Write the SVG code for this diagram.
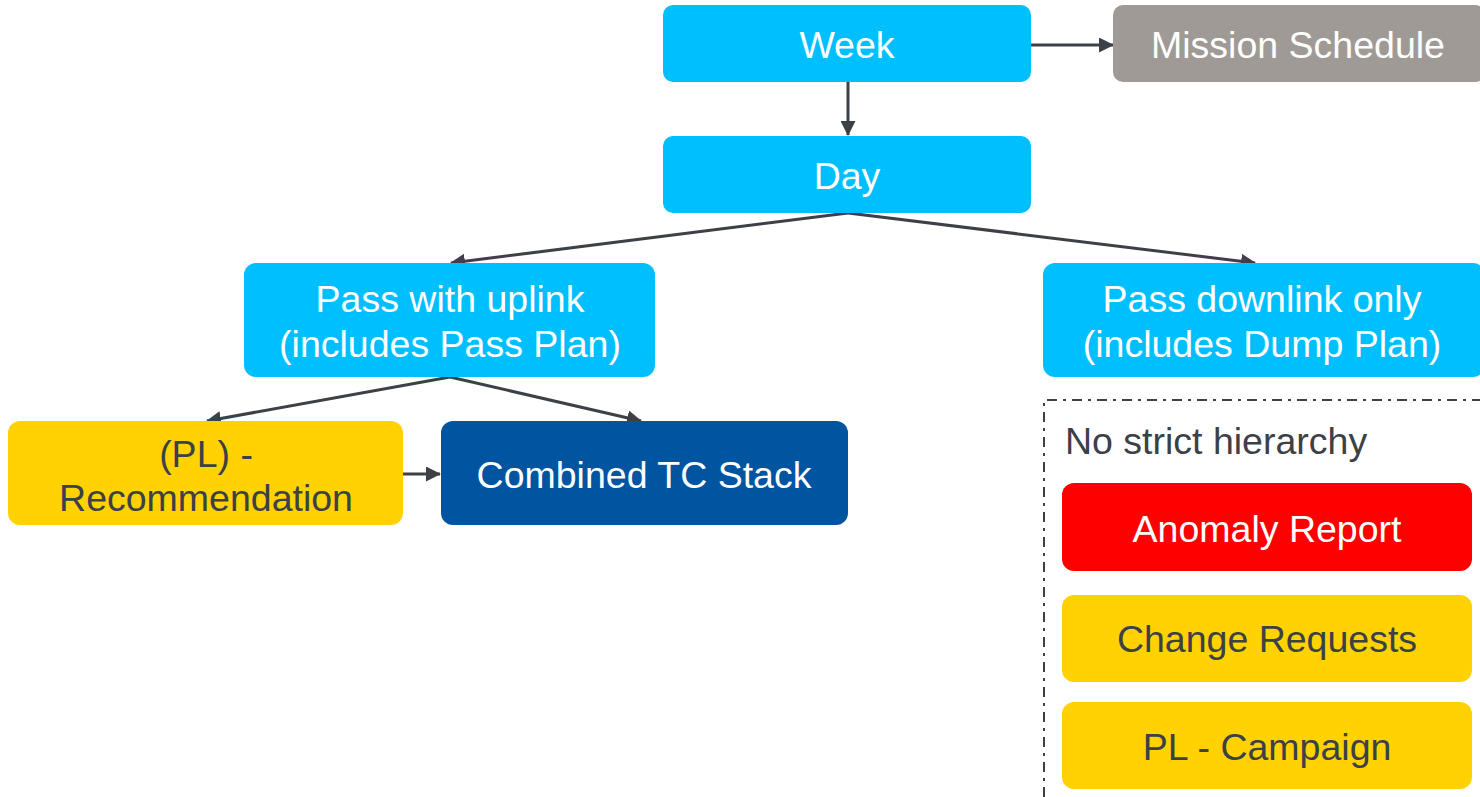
<svg xmlns="http://www.w3.org/2000/svg" width="1480" height="797" viewBox="0 0 1480 797">
<style>
text{font-family:"Liberation Sans",Arial,sans-serif;font-size:37.5px;text-anchor:middle}
.w{fill:#ffffff}.d{fill:#3C4047}
.cyan{fill:#00BFFF}.gray{fill:#A09A96}.yel{fill:#FFD200}.navy{fill:#0054A0}.red{fill:#FF0000}
.c{stroke:#3C4047;stroke-width:3;fill:none}
</style>
<defs>
<marker id="ah" viewBox="0 0 15 15" refX="14" refY="7.5" markerWidth="15" markerHeight="15" markerUnits="userSpaceOnUse" orient="auto"><path d="M0,0L15,7.5L0,15z" fill="#3C4047"/></marker>
</defs>
<rect width="1480" height="797" fill="#ffffff"/>
<g id="connectors">
<path class="c" d="M1031,45H1113" marker-end="url(#ah)"/>
<path class="c" d="M848,82V135" marker-end="url(#ah)"/>
<path class="c" d="M848,213L451,263" marker-end="url(#ah)"/>
<path class="c" d="M848,213L1255,263" marker-end="url(#ah)"/>
<path class="c" d="M450,377L207,421" marker-end="url(#ah)"/>
<path class="c" d="M450,377L641,421" marker-end="url(#ah)"/>
<path class="c" d="M403,474H440" marker-end="url(#ah)"/>
</g>
<g id="week"><rect class="cyan" x="663" y="5" width="368" height="77" rx="10"/><text class="w" x="847" y="58">Week</text></g>
<g id="mission"><rect class="gray" x="1113" y="5" width="372" height="77" rx="10"/><text class="w" x="1298" y="58">Mission Schedule</text></g>
<g id="day"><rect class="cyan" x="663" y="136" width="368" height="77" rx="10"/><text class="w" x="847" y="189">Day</text></g>
<g id="uplink"><rect class="cyan" x="244" y="263" width="411" height="114" rx="12"/><text class="w" x="450" y="312">Pass with uplink</text><text class="w" x="450" y="357">(includes Pass Plan)</text></g>
<g id="downlink"><rect class="cyan" x="1043" y="263" width="442" height="114" rx="12"/><text class="w" x="1262" y="312">Pass downlink only</text><text class="w" x="1262" y="357">(includes Dump Plan)</text></g>
<g id="recommendation"><rect class="yel" x="8" y="421" width="395" height="104" rx="12"/><text class="d" x="206" y="467">(PL) -</text><text class="d" x="206" y="511">Recommendation</text></g>
<g id="tcstack"><rect class="navy" x="441" y="421" width="407" height="104" rx="12"/><text class="w" x="644" y="488">Combined TC Stack</text></g>
<g id="group"><path d="M1044,797V400H1480" fill="none" stroke="#3C4047" stroke-width="2" stroke-dasharray="10,6,3,6"/><text class="d" x="1065" y="454" style="text-anchor:start">No strict hierarchy</text></g>
<g id="anomaly"><rect class="red" x="1062" y="483" width="410" height="88" rx="12"/><text class="w" x="1267" y="542">Anomaly Report</text></g>
<g id="change"><rect class="yel" x="1062" y="595" width="410" height="87" rx="12"/><text class="d" x="1267" y="652">Change Requests</text></g>
<g id="campaign"><rect class="yel" x="1062" y="702" width="410" height="87" rx="12"/><text class="d" x="1267" y="760">PL - Campaign</text></g>
</svg>
